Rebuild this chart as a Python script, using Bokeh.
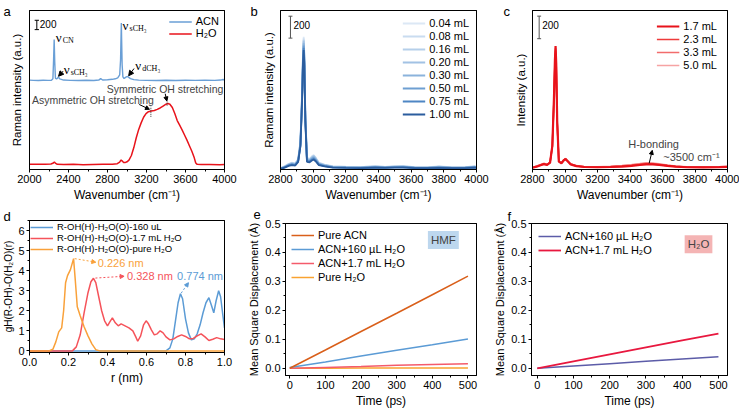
from bokeh.plotting import figure
from bokeh.layouts import row, column
from bokeh.models import (Range1d, FixedTicker, PrintfTickFormatter, Legend, LegendItem,
                          Label, Arrow, NormalHead, LinearAxis)
from bokeh.embed import file_html
from bokeh.resources import INLINE

SANS = "Liberation Sans"
SERIF = "Liberation Serif"

# ---------------- data ----------------
# (a) Raman spectra: pure ACN (offset) and pure H2O
a_wn_acn = [2000, 2040, 2090, 2140, 2190, 2225, 2240, 2247, 2253, 2259, 2266, 2278, 2288, 2296, 2310,
            2350, 2420, 2500, 2580, 2660, 2710, 2730, 2750, 2800, 2850, 2880, 2905, 2925, 2934, 2939,
            2942, 2945, 2950, 2958, 2970, 2985, 3000, 3015, 3035, 3070, 3120, 3200, 3300, 3400, 3500,
            3600, 3700, 3800, 3900, 3960, 3985, 4000]
a_int_acn = [1916, 1912, 1910, 1914, 1911, 1915, 1945, 2350, 2785, 2300, 1955, 1945, 1960, 1985, 1945,
             1918, 1912, 1909, 1913, 1910, 1918, 1948, 1920, 1926, 1934, 1945, 1965, 2030, 2350, 2850,
             3140, 2780, 2250, 1985, 1950, 1975, 1995, 1980, 1950, 1928, 1916, 1912, 1909, 1913, 1910,
             1914, 1911, 1913, 1912, 1918, 1930, 1920]
a_wn_h2o = [2000, 2080, 2160, 2220, 2245, 2255, 2265, 2285, 2350, 2450, 2550, 2650, 2750, 2850, 2900,
            2925, 2940, 2952, 2965, 2980, 3000, 3020, 3045, 3070, 3095, 3120, 3145, 3170, 3195, 3220,
            3250, 3280, 3310, 3340, 3370, 3400, 3420, 3440, 3465, 3490, 3515, 3540, 3565, 3590, 3615,
            3640, 3665, 3690, 3705, 3720, 3760, 3850, 3950, 4000]
a_int_h2o = [112, 115, 110, 118, 140, 160, 138, 112, 106, 110, 104, 108, 112, 115, 125,
             160, 205, 180, 150, 148, 165, 200, 300, 470, 680, 860, 1000, 1120, 1200, 1240,
             1255, 1265, 1290, 1320, 1360, 1400, 1414, 1400, 1330, 1200, 1050, 950, 850, 740, 630,
             510, 390, 250, 140, 110, 105, 108, 104, 106]
a_xticks = [2000, 2400, 2800, 3200, 3600, 4000]
a_xminor = [2200, 2600, 3000, 3400, 3800]
a_labels = ["ACN", "H₂O"]

# (b) ACN + small amounts of water
b_wn = [2800, 2825, 2850, 2870, 2890, 2908, 2922, 2932, 2938, 2942, 2946, 2952, 2962, 2978, 2992,
        3003, 3015, 3035, 3070, 3120, 3200, 3290, 3380, 3440, 3500, 3550, 3620, 3700, 3770, 3850,
        3930, 3990, 4000]
b_labels = ["0.04 mL", "0.08 mL", "0.16 mL", "0.20 mL", "0.30 mL", "0.50 mL", "0.75 mL", "1.00 mL"]
b_int_004 = [12, 30, 52, 62, 55, 95, 260, 700, 1080, 1210, 1060, 520, 110, 95, 120, 132, 110, 62, 45, 30,
             25, 22, 34, 24, 30, 32, 22, 20, 30, 20, 22, 30, 24]
b_int_008 = [11, 28, 50, 60, 53, 92, 250, 690, 1070, 1195, 1045, 510, 105, 92, 116, 128, 106, 60, 43, 28,
             24, 21, 30, 23, 28, 30, 21, 19, 27, 19, 21, 28, 22]
b_int_016 = [10, 26, 48, 58, 51, 89, 245, 680, 1055, 1180, 1030, 500, 100, 89, 112, 124, 103, 57, 41, 27,
             23, 20, 27, 22, 27, 28, 20, 18, 25, 18, 20, 26, 21]
b_int_020 = [10, 25, 46, 56, 49, 86, 240, 670, 1045, 1170, 1020, 490, 96, 86, 108, 120, 99, 55, 39, 26,
             22, 19, 25, 21, 26, 27, 19, 17, 24, 17, 19, 25, 20]
b_int_030 = [9, 23, 43, 52, 46, 82, 232, 655, 1030, 1150, 1000, 478, 90, 82, 102, 113, 94, 52, 37, 24,
             21, 18, 23, 20, 24, 25, 18, 16, 22, 16, 18, 23, 19]
b_int_050 = [8, 21, 40, 48, 43, 78, 225, 640, 1010, 1130, 985, 465, 84, 77, 96, 106, 88, 48, 34, 22,
             19, 17, 21, 18, 22, 23, 17, 15, 20, 15, 17, 21, 17]
b_int_075 = [7, 19, 37, 44, 40, 74, 218, 625, 995, 1110, 965, 452, 78, 72, 89, 98, 82, 44, 31, 20,
             17, 15, 19, 17, 20, 21, 15, 14, 18, 14, 15, 19, 16]
b_int_100 = [6, 17, 33, 40, 36, 70, 210, 610, 980, 1090, 950, 440, 70, 66, 82, 90, 75, 40, 28, 18,
             15, 13, 16, 15, 17, 18, 13, 12, 15, 12, 13, 16, 14]
bc_xticks = [2800, 3000, 3200, 3400, 3600, 3800, 4000]
bc_xminor = [2900, 3100, 3300, 3500, 3700, 3900]

# (c) ACN + larger amounts of water
c_wn = [2800, 2825, 2850, 2870, 2890, 2908, 2922, 2932, 2938, 2942, 2946, 2952, 2962, 2978, 2992,
        3003, 3015, 3035, 3070, 3120, 3200, 3280, 3350, 3410, 3460, 3500, 3540, 3580, 3630, 3680,
        3750, 3850, 3950, 4000]
c_labels = ["1.7 mL", "2.3 mL", "3.3 mL", "5.0 mL"]
c_int_17 = [6, 15, 28, 38, 30, 50, 200, 620, 960, 1085, 930, 420, 60, 45, 70, 82, 65, 35, 20, 12,
            10, 12, 16, 22, 30, 36, 35, 30, 22, 15, 10, 9, 11, 14]
c_int_23 = [7, 16, 30, 40, 32, 52, 198, 610, 945, 1065, 915, 412, 62, 47, 72, 84, 66, 36, 21, 13,
            11, 14, 19, 26, 34, 40, 39, 33, 24, 16, 11, 10, 12, 15]
c_int_33 = [8, 18, 32, 42, 34, 54, 195, 600, 930, 1045, 900, 405, 64, 49, 74, 86, 68, 38, 22, 14,
            12, 16, 22, 30, 38, 45, 43, 37, 27, 18, 12, 11, 13, 16]
c_int_50 = [9, 20, 34, 45, 36, 56, 190, 585, 910, 1020, 880, 395, 66, 51, 76, 88, 70, 40, 24, 15,
            13, 18, 25, 34, 42, 50, 48, 41, 30, 20, 13, 12, 14, 17]

# (d) radial distribution functions
d_r_blue = [0.0, 0.70, 0.72, 0.735, 0.75, 0.762, 0.774, 0.785, 0.80, 0.815, 0.83, 0.845, 0.86, 0.875,
            0.89, 0.905, 0.92, 0.932, 0.945, 0.957, 0.97, 0.98, 0.99, 1.0]
d_g_blue = [0.0, 0.0, 0.15, 0.6, 1.6, 2.4, 2.85, 2.6, 1.6, 0.9, 0.55, 0.6, 0.85, 1.3,
            1.9, 2.4, 2.65, 2.3, 1.9, 2.5, 3.0, 2.7, 1.9, 1.15]
d_r_red = [0.0, 0.22, 0.24, 0.26, 0.28, 0.30, 0.315, 0.328, 0.34, 0.355, 0.37, 0.385, 0.40, 0.412,
           0.425, 0.44, 0.455, 0.47, 0.49, 0.51, 0.53, 0.545, 0.555, 0.57, 0.585, 0.598, 0.61, 0.625,
           0.64, 0.655, 0.67, 0.685, 0.70, 0.72, 0.74, 0.76, 0.78, 0.80, 0.82, 0.84, 0.86, 0.88,
           0.90, 0.92, 0.94, 0.96, 0.98, 1.0]
d_g_red = [0.0, 0.0, 0.2, 0.8, 1.9, 2.9, 3.45, 3.62, 3.4, 2.7, 2.0, 1.5, 1.25, 1.45,
           1.65, 1.4, 1.25, 1.35, 1.25, 1.15, 1.0, 0.7, 0.48, 0.75, 1.3, 1.5, 1.35, 1.05,
           0.8, 0.85, 1.0, 0.9, 0.7, 0.55, 0.6, 0.72, 0.8, 0.72, 0.6, 0.62, 0.75, 0.85,
           0.7, 0.52, 0.58, 0.66, 0.6, 0.57]
d_r_orange = [0.0, 0.10, 0.12, 0.135, 0.15, 0.165, 0.175, 0.185, 0.195, 0.21, 0.226, 0.235, 0.245,
              0.26, 0.28, 0.30, 0.32, 0.34, 0.36, 1.0]
d_g_orange = [0.0, 0.0, 0.08, 0.45, 0.95, 1.15, 2.0, 3.4, 3.75, 4.05, 4.6, 3.5, 2.2,
              1.75, 1.2, 0.75, 0.35, 0.06, 0.0, 0.0]
d_labels = ["R-OH(H)-H₂O(O)-160 uL", "R-OH(H)-H₂O(O)-1.7 mL H₂O", "R-OH(H)-H₂O(O)-pure H₂O"]
d_xticks = [0.0, 0.2, 0.4, 0.6, 0.8, 1.0]
d_xminor = [0.1, 0.3, 0.5, 0.7, 0.9]
d_yticks = [0, 1, 2, 3, 4, 5, 6]
d_yminor = [0.5, 1.5, 2.5, 3.5, 4.5, 5.5, 6.5]

# (e) MSD of HMF
e_time = [0, 100, 200, 300, 400, 500]
e_msd_pure_acn = [0.0, 0.063, 0.127, 0.190, 0.254, 0.318]
e_msd_160ul = [0.003, 0.022, 0.042, 0.062, 0.081, 0.101]
e_msd_17ml = [0.0, 0.003, 0.006, 0.010, 0.013, 0.016]
e_msd_pure_h2o = [0.0, 0.0003, 0.0005, 0.0007, 0.0009, 0.001]
e_labels = ["Pure ACN", "ACN+160 µL H₂O", "ACN+1.7 mL H₂O", "Pure H₂O"]

# (f) MSD of H2O
f_time = [0, 100, 200, 300, 400, 500]
f_msd_160ul = [0.0, 0.008, 0.016, 0.024, 0.032, 0.040]
f_msd_17ml = [0.0, 0.024, 0.048, 0.072, 0.096, 0.120]
f_labels = ["ACN+160 µL H₂O", "ACN+1.7 mL H₂O"]

ef_xticks = [0, 100, 200, 300, 400, 500]
ef_xminor = [50, 150, 250, 350, 450]
ef_yticks = [0.0, 0.1, 0.2, 0.3, 0.4, 0.5]
ef_yminor = [0.05, 0.15, 0.25, 0.35, 0.45]

SCALE_BAR = 200

# ---------------- layout geometry ----------------
GEO = {
    'a': dict(w=245, h=204, l=29, r=21, t=10, b=35),
    'b': dict(w=245, h=204, l=35, r=14, t=10, b=35),
    'c': dict(w=249, h=204, l=42, r=12, t=10, b=35),
    'd': dict(w=245, h=206, l=29, r=21, t=16, b=58),
    'e': dict(w=245, h=206, l=35, r=14, t=19, b=33),
    'f': dict(w=249, h=206, l=41, r=12, t=19, b=33),
}

TICK_FS = "11px"
LABEL_FS = "12px"


def style_axis(ax):
    ax.axis_line_color = "black"
    ax.major_tick_line_color = "black"
    ax.minor_tick_line_color = "black"
    ax.major_tick_out = 3
    ax.major_tick_in = 0
    ax.minor_tick_out = 2
    ax.minor_tick_in = 0
    ax.major_label_text_font = SANS
    ax.major_label_text_font_size = TICK_FS
    ax.major_label_text_color = "black"
    ax.major_label_standoff = 2
    ax.axis_label_text_font = SANS
    ax.axis_label_text_font_size = LABEL_FS
    ax.axis_label_text_font_style = "normal"
    ax.axis_label_text_color = "black"
    ax.axis_label_standoff = 2


def make_fig(g, xr, yr):
    p = figure(width=g['w'], height=g['h'], x_range=Range1d(*xr), y_range=Range1d(*yr),
               output_backend="svg", toolbar_location=None,
               min_border_left=g['l'], min_border_right=g['r'],
               min_border_top=g['t'], min_border_bottom=g['b'])
    p.grid.visible = False
    p.outline_line_color = "black"
    p.background_fill_color = "white"
    p.border_fill_color = "white"
    style_axis(p.below[0])
    style_axis(p.left[0])
    # closing box (top and right edges), no ticks, no labels
    for loc in ("above", "right"):
        bx = LinearAxis(ticker=FixedTicker(ticks=[]), major_tick_out=0, minor_tick_out=0,
                        major_label_standoff=0, axis_label_standoff=0, axis_line_color="black")
        p.add_layout(bx, loc)
    return p


def xax(p):
    return p.below[0]


def yax(p):
    return p.left[0]


def hide_y(p, label, standoff):
    ax = yax(p)
    ax.ticker = FixedTicker(ticks=[])
    ax.major_tick_out = 0
    ax.minor_tick_out = 0
    ax.major_label_standoff = 0
    ax.axis_label = label
    ax.axis_label_standoff = standoff
    ax.axis_label_text_font_size = "11.5px"


def add_legend(p, items, loc, margin, font="11px", glyph_w=23, row_h=12, spacing=1, standoff=4):
    lg = Legend(items=items, location=loc, orientation="vertical",
                label_text_font=SANS, label_text_font_size=font, label_text_color="black",
                glyph_width=glyph_w, glyph_height=row_h, label_height=row_h,
                label_standoff=standoff, spacing=spacing, padding=0, margin=margin,
                border_line_color=None, background_fill_alpha=0)
    p.add_layout(lg)


def scale_bar(p, x, y0, cap, color):
    p.segment(x0=[x], y0=[y0], x1=[x], y1=[y0 + SCALE_BAR], line_color=color, line_width=1)
    p.segment(x0=[x - cap, x - cap], y0=[y0, y0 + SCALE_BAR], x1=[x + cap, x + cap],
              y1=[y0, y0 + SCALE_BAR], line_color=color, line_width=1)
    p.add_layout(Label(x=x, y=y0 + SCALE_BAR * 0.6, x_offset=3, text=str(SCALE_BAR),
                       text_font=SANS, text_font_size="10px", text_baseline="middle",
                       text_color="black"))


def arrow(p, x0, y0, x1, y1, color="black", dash="solid", size=5):
    p.add_layout(Arrow(end=NormalHead(size=size, fill_color=color, line_color=color, line_width=1),
                       x_start=x0, y_start=y0, x_end=x1, y_end=y1,
                       line_color=color, line_width=1, line_dash=dash))


def nu(p, x, y, sub):
    p.add_layout(Label(x=x, y=y, text="ν", text_font=SERIF, text_font_size="13px",
                       text_baseline="middle", text_color="black"))
    p.add_layout(Label(x=x, y=y, x_offset=7, y_offset=-3, text=sub, text_font=SERIF,
                       text_font_size="8px", text_baseline="middle", text_color="black"))


def side_letter(p, x, y, t, side):
    """panel letter drawn in a side panel (canvas pixels, y from top)"""
    p.add_layout(Label(x=x, y=y, x_units="canvas", y_units="canvas", text=t, text_font=SANS,
                       text_font_size="13px", text_baseline="alphabetic", text_color="black"), side)


# ---------------- (a) ----------------
ga = GEO['a']
pa = make_fig(ga, (2000, 4000), (0, 3410))
xax(pa).ticker = FixedTicker(ticks=a_xticks, minor_ticks=a_xminor)
xax(pa).axis_label = "Wavenumber (cm⁻¹)"
hide_y(pa, "Raman intensity (a.u.)", 7)
C_ACN = "#6A9FD6"
C_H2O = "#E8131B"
la1 = pa.line(a_wn_acn, a_int_acn, line_color=C_ACN, line_width=1.4)
la2 = pa.line(a_wn_h2o, a_int_h2o, line_color=C_H2O, line_width=1.5)
add_legend(pa, [LegendItem(label=a_labels[0], renderers=[la1]),
                LegendItem(label=a_labels[1], renderers=[la2])], "top_right", 5,
           row_h=11, spacing=0)
scale_bar(pa, 2075, 3000, 22, "black")
nu(pa, 2268, 2830, "CN")
nu(pa, 2350, 2140, "sCH₃")
nu(pa, 2955, 3095, "sCH₃")
nu(pa, 3085, 2235, "dCH₃")
arrow(pa, 2345, 2110, 2298, 2000)
arrow(pa, 3072, 2165, 3017, 2010)
pa.add_layout(Label(x=3390, y=1730, text="Symmetric OH stretching", text_font=SANS,
                    text_font_size="10.5px", text_align="center", text_baseline="middle"))
pa.add_layout(Label(x=2650, y=1480, text="Asymmetric OH stretching", text_font=SANS,
                    text_font_size="10.5px", text_align="center", text_baseline="middle"))
arrow(pa, 3392, 1625, 3408, 1470, size=4)
arrow(pa, 3125, 1395, 3230, 1290, size=4)
pa.segment(x0=[3245, 3411], y0=[1130, 1370], x1=[3245, 3411], y1=[1350, 1510],
           line_color="#333333", line_dash="1 1", line_width=1)
side_letter(pa, 3, 11, "a", "right")

# ---------------- (b) ----------------
gb = GEO['b']
pb = make_fig(gb, (2800, 4000), (0, 1450))
xax(pb).ticker = FixedTicker(ticks=bc_xticks, minor_ticks=bc_xminor)
xax(pb).axis_label = "Wavenumber (cm⁻¹)"
hide_y(pb, "Ramam intensity (a.u.)", 6)
b_series = [b_int_004, b_int_008, b_int_016, b_int_020, b_int_030, b_int_050, b_int_075, b_int_100]
b_colors = ["#DCE8F5", "#C9DCF0", "#B5CFEA", "#A2C2E4", "#8BB3DC", "#6E9FD2", "#4E86C4", "#2B5D9E"]
b_items = []
for lab, ys, col in zip(b_labels, b_series, b_colors):
    rb_ = pb.line(b_wn, ys, line_color=col, line_width=1.8)
    b_items.append(LegendItem(label=lab, renderers=[rb_]))
add_legend(pb, b_items, "top_right", 7, row_h=12, spacing=1)
scale_bar(pb, 2861, 1198, 12, "#555555")
side_letter(pb, 5, 11, "b", "left")

# ---------------- (c) ----------------
gc = GEO['c']
pc = make_fig(gc, (2800, 4000), (-10, 1400))
xax(pc).ticker = FixedTicker(ticks=bc_xticks, minor_ticks=bc_xminor)
xax(pc).axis_label = "Wavenumber (cm⁻¹)"
hide_y(pc, "Intensity (a.u.)", 6)
c_series = [c_int_17, c_int_23, c_int_33, c_int_50]
c_colors = ["#E8131B", "#EE3B3B", "#F26C6C", "#F6A3A3"]
c_widths = [2.2, 1.6, 1.6, 1.6]
c_rends = [None] * 4
for i in [3, 2, 1, 0]:
    c_rends[i] = pc.line(c_wn, c_series[i], line_color=c_colors[i], line_width=c_widths[i])
c_items = [LegendItem(label=c_labels[i], renderers=[c_rends[i]]) for i in range(4)]
add_legend(pc, c_items, "top_right", 10, row_h=12, spacing=1)
scale_bar(pc, 2841, 1150, 12, "#555555")
pc.add_layout(Label(x=3545, y=215, text="H-bonding", text_font=SANS, text_font_size="11px",
                    text_align="center", text_baseline="middle"))
pc.add_layout(Label(x=3605, y=105, text="~3500 cm⁻¹", text_font=SANS, text_font_size="11px",
                    text_align="left", text_baseline="middle"))
arrow(pc, 3518, 45, 3537, 160, size=4)
side_letter(pc, 13, 11, "c", "left")

# ---------------- (d) ----------------
gd = GEO['d']
pd_ = make_fig(gd, (0, 1.0), (-0.08, 6.5))
xax(pd_).ticker = FixedTicker(ticks=d_xticks, minor_ticks=d_xminor)
xax(pd_).formatter = PrintfTickFormatter(format="%.1f")
xax(pd_).axis_label = "r (nm)"
yax(pd_).ticker = FixedTicker(ticks=d_yticks, minor_ticks=d_yminor)
yax(pd_).axis_label = "gH(R-OH)-O(H₂O)(r)"
yax(pd_).axis_label_text_font_size = "10px"
yax(pd_).axis_label_standoff = 1
C_DB, C_DR, C_DO = "#5B9BD5", "#F5535A", "#F9A13A"
rb = pd_.line(d_r_blue, d_g_blue, line_color=C_DB, line_width=1.5)
rr = pd_.line(d_r_red, d_g_red, line_color=C_DR, line_width=1.5)
ro = pd_.line(d_r_orange, d_g_orange, line_color=C_DO, line_width=1.5)
add_legend(pd_, [LegendItem(label=d_labels[0], renderers=[rb]),
                 LegendItem(label=d_labels[1], renderers=[rr]),
                 LegendItem(label=d_labels[2], renderers=[ro])], "top_left", 1, font="9.5px",
           row_h=10, spacing=0)
arrow(pd_, 0.232, 4.6, 0.34, 4.42, color=C_DO, dash="2 2", size=4)
pd_.add_layout(Label(x=0.35, y=4.4, text="0.226 nm", text_font=SANS, text_font_size="11px",
                     text_color=C_DO, text_baseline="middle"))
arrow(pd_, 0.338, 3.63, 0.485, 3.72, color=C_DR, dash="2 2", size=4)
pd_.add_layout(Label(x=0.50, y=3.72, text="0.328 nm", text_font=SANS, text_font_size="11px",
                     text_color=C_DR, text_baseline="middle"))
arrow(pd_, 0.778, 2.88, 0.815, 3.4, color=C_DB, dash="2 2", size=4)
pd_.add_layout(Label(x=0.757, y=3.72, text="0.774 nm", text_font=SANS, text_font_size="11px",
                     text_color=C_DB, text_baseline="middle"))
side_letter(pd_, 3, 12, "d", "right")

# ---------------- (e) ----------------
ge = GEO['e']
pe = make_fig(ge, (-12, 524), (-0.025, 0.5))
xax(pe).ticker = FixedTicker(ticks=ef_xticks, minor_ticks=ef_xminor)
yax(pe).ticker = FixedTicker(ticks=ef_yticks, minor_ticks=ef_yminor)
yax(pe).formatter = PrintfTickFormatter(format="%.1f")
xax(pe).axis_label = "Time (ps)"
yax(pe).axis_label = "Mean Square Displacement (Å)"
yax(pe).axis_label_text_font_size = "11px"
e_colors = ["#D95F1A", "#5B9BD5", "#F45B6B", "#F9A330"]
e_series = [e_msd_pure_acn, e_msd_160ul, e_msd_17ml, e_msd_pure_h2o]
e_rends = [None] * 4
for i in [3, 2, 1, 0]:
    e_rends[i] = pe.line(e_time, e_series[i], line_color=e_colors[i], line_width=1.5)
e_items = [LegendItem(label=e_labels[i], renderers=[e_rends[i]]) for i in range(4)]
add_legend(pe, e_items, "top_left", 6, row_h=12, spacing=2)
pe.add_layout(Label(x=431, y=0.443, text="HMF", text_font=SANS, text_font_size="11.5px",
                    text_align="center", text_baseline="middle", background_fill_color="#BDD7EE",
                    padding=3))
side_letter(pe, 8, 10, "e", "right")

# ---------------- (f) ----------------
gf = GEO['f']
pf = make_fig(gf, (-16, 525), (-0.025, 0.5))
xax(pf).ticker = FixedTicker(ticks=ef_xticks, minor_ticks=ef_xminor)
yax(pf).ticker = FixedTicker(ticks=ef_yticks, minor_ticks=ef_yminor)
yax(pf).formatter = PrintfTickFormatter(format="%.1f")
xax(pf).axis_label = "Time (ps)"
yax(pf).axis_label = "Mean Square Displacement (Å)"
yax(pf).axis_label_text_font_size = "11px"
f_colors = ["#5C5CA8", "#E8183F"]
rf1 = pf.line(f_time, f_msd_160ul, line_color=f_colors[0], line_width=1.5)
rf2 = pf.line(f_time, f_msd_17ml, line_color=f_colors[1], line_width=1.8)
add_legend(pf, [LegendItem(label=f_labels[0], renderers=[rf1]),
                LegendItem(label=f_labels[1], renderers=[rf2])], "top_left", 7,
           row_h=12, spacing=2)
pf.add_layout(Label(x=445, y=0.428, text="H₂O", text_font=SANS, text_font_size="11.5px",
                    text_align="center", text_baseline="middle", background_fill_color="#F4B4B4",
                    padding=3))
side_letter(pf, 17, 12, "f", "right")

layout = column(row(pa, pb, pc), row(column(pd_), pe, pf))
open("out.html", "w").write(file_html(layout, INLINE))
